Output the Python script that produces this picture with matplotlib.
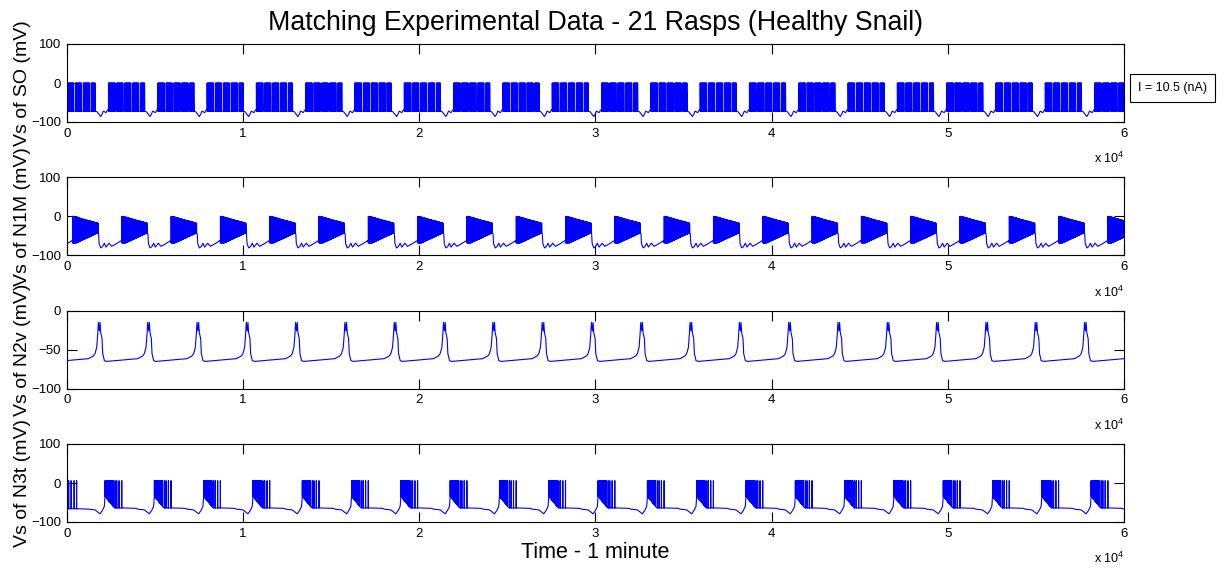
# Registro de voltaje de 4 neuronas (SO, N1M, N2v, N3t) durante 1 minuto
# Los tiempos de cada ciclo se leyeron de la figura original

import numpy as np
import matplotlib.pyplot as plt

plt.rcParams['font.family'] = ['Liberation Sans', 'DejaVu Sans']

t_end = 60000  # ms

# SO trough time of every rasp cycle (ms); first and last are partly outside 0-60 s
cycle_t0 = [-868, 1930, 4728, 7526, 10324, 13122, 15920, 18718, 21516, 24314,
            27112, 29910, 32708, 35506, 38304, 41102, 43900, 46698, 49496,
            52294, 55092, 57890, 60688]

# SO: long bursts, interrupted around each trough
so_top, so_base = 0, -72
so_isi = 28
so_pause = [450, 72]  # short pause every 450 ms
so_trough_dt = [-300, -200, -100, 0, 80, 150, 230, 300, 380, 440]
so_trough_v = [-72, -74, -80, -86, -80, -72, -74, -76, -70, -68]

# N1M: burst with decaying envelope ending just before the SO trough
n1m_on, n1m_off = -1600, -135
n1m_isi = 20
n1m_top_f = [0, 0.2, 0.5, 0.8, 1.0]
n1m_top_v = [0, -3, -9, -14, -18]
n1m_bot_f = [0, 0.15, 1.0]
n1m_bot_v = [-68, -68, -42]
n1m_rest_dt = [-120, -90, 0, 100, 208, 300, 473, 624, 900, 1180]
n1m_rest_v = [-45, -70, -81, -78, -69, -79, -69, -77, -70, -62]

# N2v: one (double) spike per cycle
n2v_dt = [-700, -416, -322, -227, -170, -132, -76, -38, 0, 38, 76, 114, 208, 340]
n2v_v = [-61.5, -58, -55, -47, -30, -15, -26, -15, -28, -32, -36, -55, -64, -65]

# N3t: dense burst after the trough, then a few isolated spikes
n3t_top = 6
n3t_pre_dt = [-700, -320, -38, 100, 205]
n3t_pre_v = [-67, -69, -79, -70, -60]
n3t_dense = [246, 719]
n3t_isi = 14
n3t_bot_v = [-34, -60]
n3t_sparse_dt = [814, 908, 1040, 1192]
n3t_post_dt = [740, 1300, 2000]
n3t_post_v = [-62, -64, -65]
n3t_init_spikes = [20, 110, 250, 420, 560]


def burst(t_a, t_b, isi, top_f, top_v, bot_f, bot_v, pause=None):
    st = np.arange(t_a, t_b, isi, dtype=float)
    if pause is not None:
        st = st[(st - t_a) % pause[0] < pause[0] - pause[1]]
    f = (st - t_a) / (t_b - t_a)
    top = np.interp(f, top_f, top_v)
    bot = np.interp(f, bot_f, bot_v)
    t = np.column_stack([st, st + 2, st + isi * 0.4]).ravel()
    v = np.column_stack([bot, top, bot]).ravel()
    return t, v


def join(parts):
    t = np.concatenate([p[0] for p in parts])
    v = np.concatenate([p[1] for p in parts])
    o = np.argsort(t, kind='stable')
    return t[o], v[o]


# SO
parts = []
for i, t0 in enumerate(cycle_t0):
    parts.append((t0 + np.array(so_trough_dt), np.array(so_trough_v, float)))
    if i + 1 < len(cycle_t0):
        parts.append(burst(t0 + so_trough_dt[-1] + 1, cycle_t0[i + 1] + so_trough_dt[0] - 12,
                           so_isi, [0, 1], [so_top] * 2, [0, 1], [so_base] * 2, so_pause))
t_so, v_so = join(parts)

# N1M
parts = []
for t0 in cycle_t0:
    parts.append(burst(t0 + n1m_on, t0 + n1m_off - 10, n1m_isi,
                       n1m_top_f, n1m_top_v, n1m_bot_f, n1m_bot_v))
    parts.append((t0 + np.array(n1m_rest_dt), np.array(n1m_rest_v, float)))
t_n1m, v_n1m = join(parts)

# N2v
parts = [(t0 + np.array(n2v_dt), np.array(n2v_v, float)) for t0 in cycle_t0]
t_n2v, v_n2v = join(parts)

# N3t
parts = [(np.array([0, 600.0]), np.array([-66, -66.0]))]
for s in n3t_init_spikes:
    parts.append(burst(s, s + 10, 10, [0, 1], [n3t_top] * 2, [0, 1], [-66, -66]))
for t0 in cycle_t0[1:]:
    parts.append((t0 + np.array(n3t_pre_dt), np.array(n3t_pre_v, float)))
    parts.append(burst(t0 + n3t_dense[0], t0 + n3t_dense[1], n3t_isi,
                       [0, 1], [n3t_top] * 2, [0, 1], n3t_bot_v))
    for s in n3t_sparse_dt:
        parts.append(burst(t0 + s, t0 + s + 10, 10, [0, 1], [n3t_top] * 2, [0, 1], [-64, -64]))
    parts.append((t0 + np.array(n3t_post_dt), np.array(n3t_post_v, float)))
t_n3t, v_n3t = join(parts)

traces = [(t_so, v_so, 'Vs of SO (mV)', (-100, 100), [-100, 0, 100]),
          (t_n1m, v_n1m, 'Vs of N1M (mV)', (-100, 100), [-100, 0, 100]),
          (t_n2v, v_n2v, 'Vs of N2v (mV)', (-100, 0), [-100, -50, 0]),
          (t_n3t, v_n3t, 'Vs of N3t (mV)', (-100, 100), [-100, 0, 100])]

# ========= FIGURA =========
fig = plt.figure(figsize=(12.28, 5.71), dpi=100)
W, H = 1228, 571
left, right = 66.7, 1124
tops = [44, 177.3, 310.7, 444]
alto = 78

axes = []
for (t, v, lab, yl, yt), top in zip(traces, tops):
    ax = fig.add_axes([left / W, 1 - (top + alto) / H, (right - left) / W, alto / H])
    ax.plot(t, v, color='#0000ff', lw=0.8)
    ax.set_xlim(0, t_end)
    ax.set_ylim(*yl)
    ax.set_yticks(yt)
    ax.set_xticks(np.arange(0, 60001, 10000))
    ax.set_xticklabels([str(k) for k in range(7)])
    ax.tick_params(direction='in', length=7, width=0.8, top=True, right=True,
                   labelsize=9.5, pad=4)
    for s in ax.spines.values():
        s.set_linewidth(0.8)
    ax.set_ylabel(lab, fontsize=14)
    ax.yaxis.set_label_coords(-0.042, 0.5)
    ax.yaxis.label.set_va('center')
    ax.text(1.0, -0.47, r'x $\mathregular{10^4}$', transform=ax.transAxes,
            ha='right', va='center', fontsize=9)
    axes.append(ax)

axes[0].set_title('Matching Experimental Data - 21 Rasps (Healthy Snail)', fontsize=19.3, pad=10)
axes[-1].set_xlabel('Time - 1 minute', fontsize=15.5)
axes[-1].xaxis.set_label_coords(0.5, -0.39)
axes[-1].xaxis.label.set_va('center')

fig.text(1172.5 / W, 1 - 88 / H, 'I = 10.5 (nA)', ha='center', va='center', fontsize=9,
         bbox=dict(boxstyle='square,pad=0.65', fc='white', ec='black', lw=0.8))

fig.savefig('out.png', dpi=100)
